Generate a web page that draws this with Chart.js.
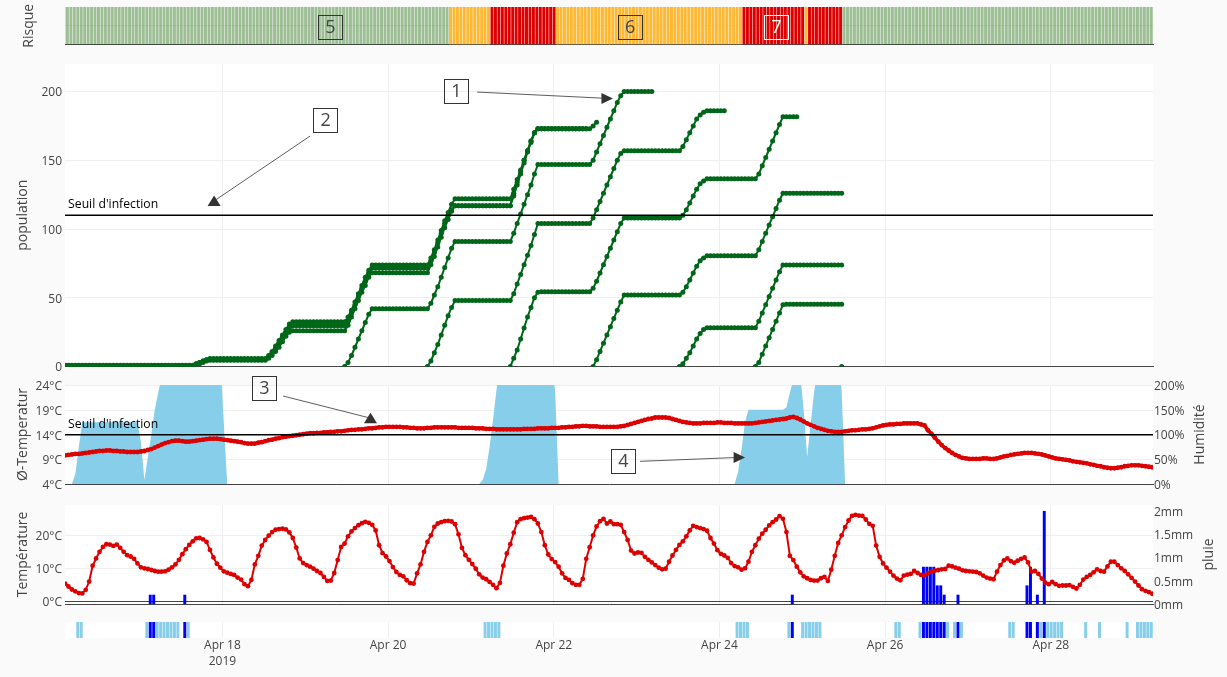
<!DOCTYPE html>
<html>
<head>
<meta charset="utf-8">
<title>Risque d'infection</title>
<script src="https://cdn.jsdelivr.net/npm/chart.js@4/dist/chart.umd.min.js"></script>
<style>
html,body{margin:0;padding:0;background:#fafafa;overflow:hidden}
canvas{position:absolute;left:0;top:0}
</style>
</head>
<body>
<canvas id="riskChart" width="1227" height="677"></canvas>
<canvas id="popChart" width="1227" height="677"></canvas>
<canvas id="avgChart" width="1227" height="677"></canvas>
<canvas id="tempChart" width="1227" height="677"></canvas>
<canvas id="wetChart" width="1227" height="677"></canvas>
<script>
// hours counted from the first reading (Apr 16, about 02:20)
var xTickHours=[45.6,93.6,141.6,189.6,237.6,285.6];
var xTickLabels=[['Apr 18','2019'],'Apr 20','Apr 22','Apr 24','Apr 26','Apr 28'];
var xMax=315.2;

var riskStartHours=[-1,111,123,142,196,214,215,225];
var riskLevels=['low','mid','high','mid','high','mid','high','low'];
var riskTicks=[0.5];

var populationTicks=[0,50,100,150,200];
var infectionThreshold=110;
var avgTempTicks=[4,9,14,19,24];
var humidityTicks=[0,50,100,150,200];
var avgTempThreshold=14;
var tempTicks=[0,10,20];
var rainTicks=[0,0.5,1,1.5,2];

var growthStarts=[0,0,0,81,105,129,153,178,200,225];
var growth1=[
1,1,1,1,1,1,1,1,1,1,
1,1,1,1,1,1,1,1,1,1,
1,1,1,1,1,1,1,1,1,1,
1,1,1,1,1,1,1,1,
2,3,4,5,5.8,
5.8,5.8,5.8,5.8,5.8,5.8,5.8,5.8,5.8,5.8,5.8,5.8,5.8,5.8,5.8,5.8,
8,11,15,19,23,27,31,32.6,
32.6,32.6,32.6,32.6,32.6,32.6,32.6,32.6,32.6,32.6,32.6,32.6,32.6,32.6,32.6,
36,41,47,53,59,65,70,73.8,
73.8,73.8,73.8,73.8,73.8,73.8,73.8,73.8,73.8,73.8,73.8,73.8,73.8,73.8,73.8,73.8,
79,85,92,99,106,112,118,122,
122,122,122,122,122,122,122,122,122,122,122,122,122,122,122,122,
129,136,143,150,157,164,170,173,
173,173,173,173,173,173,173,173,173,173,173,173,173,173,
173,175,177.7];
var growth2=[
0.8,0.8,0.8,0.8,0.8,0.8,0.8,0.8,0.8,0.8,
0.8,0.8,0.8,0.8,0.8,0.8,0.8,0.8,0.8,0.8,
0.8,0.8,0.8,0.8,0.8,0.8,0.8,0.8,0.8,0.8,
0.8,0.8,0.8,0.8,0.8,0.8,0.8,0.8,
2,3,4,5,5,
5,5,5,5,5,5,5,5,5,5,5,5,5,5,5,5,
7,10,13,17,21,25,28,29.7,
29.7,29.7,29.7,29.7,29.7,29.7,29.7,29.7,29.7,29.7,29.7,29.7,29.7,29.7,29.7,
33,39,45,51,57,62,68,71.6,
71.6,71.6,71.6,71.6,71.6,71.6,71.6,71.6,71.6,71.6,71.6,71.6,71.6,71.6,71.6,71.6,
77,83,90,97,104,110,114,117,
117,117,117,117,117,117,117,117,117,117,117,117,117,117,117,117,
126,134,142,150,157,164,170,173,
173,173,173,173,173,173,173,173,173,173,173,173,173,173];
var growth3=[
0.5,0.5,0.5,0.5,0.5,0.5,0.5,0.5,0.5,0.5,
0.5,0.5,0.5,0.5,0.5,0.5,0.5,0.5,0.5,0.5,
0.5,0.5,0.5,0.5,0.5,0.5,0.5,0.5,0.5,0.5,
0.5,0.5,0.5,0.5,0.5,0.5,0.5,0.5,
1,2,3,4,4.5,
4.5,4.5,4.5,4.5,4.5,4.5,4.5,4.5,4.5,4.5,4.5,4.5,4.5,4.5,4.5,4.5,
6,8,11,14,18,22,25,26,
26,26,26,26,26,26,26,26,26,26,26,26,26,26,26,
30,36,42,48,54,59,65,68.2,
68.2,68.2,68.2,68.2,68.2,68.2,68.2,68.2,68.2,68.2,68.2,68.2,68.2,68.2,68.2,68.2,
74,80,87,94,101,107,113,117,
117,117,117,117,117,117,117,117,117,117,117,117,117,117,117,117,
124,132,140,148,156,163,170,173,
173,173,173,173,173,173,173,173,173,173,173,173,173,173];
var growth4=[
0,3,8,14,20,26,32,38,42,
42,42,42,42,42,42,42,42,42,42,42,42,42,42,42,42,
46,52,58,65,72,79,86,91,
91,91,91,91,91,91,91,91,91,91,91,91,91,91,91,91,
97,104,111,118,125,132,140,147,
147,147,147,147,147,147,147,147,147,147,147,147,147,147,147,
150,156,162,168,174,180,186,192,197,200,
200,200,200,200,200,200,200,200];
var growth5=[
0,4,10,16,23,30,37,43,48,
48,48,48,48,48,48,48,48,48,48,48,48,48,48,48,48,
53,60,67,74,81,88,96,104,
104,104,104,104,104,104,104,104,104,104,104,104,104,104,104,
108,114,120,126,132,138,144,150,155,157,
157,157,157,157,157,157,157,157,157,157,157,157,157,157,157,157,
160,165,170,175,180,183,185,186,
186,186,186,186,186];
var growth6=[
0,6,12,20,28,36,43,50,54,
54.4,54.4,54.4,54.4,54.4,54.4,54.4,54.4,54.4,54.4,54.4,54.4,54.4,54.4,54.4,
57,62,68,74,80,86,92,98,104,108,
108,108,108,108,108,108,108,108,108,108,108,108,108,108,108,108,
110,114,119,124,129,133,135,136.5,
136.5,136.5,136.5,136.5,136.5,136.5,136.5,136.5,136.5,136.5,136.5,136.5,136.5,136.5,
140,146,152,158,164,170,176,181.7,
181.7,181.7,181.7,181.7];
var growth7=[
0,5,11,17,23,29,35,41,47,52,
52,52,52,52,52,52,52,52,52,52,52,52,52,52,52,52,
54,58,63,68,73,77,79,80.6,
80.6,80.6,80.6,80.6,80.6,80.6,80.6,80.6,80.6,80.6,80.6,80.6,80.6,80.6,
85,91,97,103,109,115,121,126,
126,126,126,126,126,126,126,126,126,126,126,126,126,126,126,126,126];
var growth8=[
0,2,6,10,15,20,24,27,28.2,
28.2,28.2,28.2,28.2,28.2,28.2,28.2,28.2,28.2,28.2,28.2,28.2,28.2,28.2,
33,39,45,51,57,63,69,73.8,
73.8,73.8,73.8,73.8,73.8,73.8,73.8,73.8,73.8,73.8,73.8,73.8,73.8,73.8,73.8,73.8,73.8];
var growth9=[
0,3,9,15,21,27,33,39,45,
45.2,45.2,45.2,45.2,45.2,45.2,45.2,45.2,45.2,45.2,45.2,45.2,45.2,45.2,45.2,45.2,45.2];
var growth10=[0];
var growthSeries=[growth1,growth2,growth3,growth4,growth5,growth6,growth7,growth8,growth9,growth10];

var avgTemp=[
9.8,9.9,10,10.1,10.1,10.2,10.3,10.4,10.5,10.6,
10.7,10.7,10.8,10.8,10.7,10.7,10.6,10.6,10.5,10.5,
10.5,10.5,10.6,10.7,10.9,11.1,11.4,11.7,12,12.3,
12.5,12.7,12.8,12.8,12.7,12.6,12.6,12.7,12.8,12.9,
13,13.1,13.2,13.2,13.2,13.1,13,12.9,12.8,12.7,
12.6,12.5,12.3,12.2,12.2,12.2,12.4,12.5,12.7,12.9,
13,13.2,13.3,13.5,13.6,13.7,13.8,13.9,14,14.1,
14.2,14.3,14.3,14.4,14.4,14.5,14.5,14.6,14.6,14.7,
14.7,14.8,14.9,15,15,15.1,15.1,15.2,15.3,15.3,
15.4,15.5,15.5,15.6,15.6,15.6,15.6,15.6,15.5,15.5,
15.4,15.4,15.3,15.3,15.3,15.4,15.4,15.5,15.5,15.5,
15.5,15.5,15.5,15.5,15.4,15.4,15.4,15.4,15.4,15.3,
15.3,15.3,15.2,15.2,15.2,15.1,15.1,15.1,15.1,15.1,
15.1,15.1,15.1,15.2,15.2,15.2,15.2,15.3,15.3,15.3,
15.3,15.4,15.4,15.4,15.5,15.5,15.6,15.6,15.7,15.7,
15.8,15.8,15.7,15.7,15.7,15.6,15.6,15.6,15.6,15.6,
15.6,15.7,15.8,16,16.2,16.4,16.6,16.8,17,17.2,
17.3,17.5,17.5,17.5,17.5,17.4,17.2,17,16.8,16.6,
16.5,16.4,16.3,16.3,16.3,16.4,16.4,16.4,16.4,16.5,
16.5,16.4,16.4,16.4,16.3,16.3,16.3,16.3,16.3,16.3,
16.4,16.5,16.6,16.7,16.8,16.9,17,17.1,17.2,17.3,
17.5,17.6,17.4,17.1,16.7,16.3,16,15.7,15.4,15.2,
15,14.8,14.7,14.6,14.6,14.6,14.7,14.8,14.9,14.9,
15,15.1,15.1,15.2,15.3,15.5,15.7,15.9,16,16.1,
16.1,16.2,16.2,16.3,16.3,16.3,16.3,16.3,16.1,15.9,
14.9,14.2,13.4,12.6,11.9,11.3,10.8,10.3,9.9,9.6,
9.3,9.2,9.1,9.1,9.1,9.1,9.2,9.2,9.1,9.1,
9.2,9.4,9.6,9.7,9.9,10,10.1,10.2,10.3,10.3,
10.3,10.2,10.1,10,9.8,9.6,9.4,9.2,9.1,9,
8.9,8.8,8.6,8.5,8.4,8.3,8.2,8,7.9,7.7,
7.6,7.4,7.3,7.2,7.2,7.3,7.4,7.6,7.7,7.8,
7.8,7.8,7.7,7.6,7.5,7.4];

var humidity=[
0,0,0,20,75,125,125,125,125,125,
125,125,125,125,125,125,125,125,125,125,
125,125,85,8,55,100,150,185,215,240,
250,250,250,250,250,250,250,250,250,250,
250,250,250,250,250,250,125,0,0,0,
0,0,0,0,0,0,0,0,0,0,
0,0,0,0,0,0,0,0,0,0,
0,0,0,0,0,0,0,0,0,0,
0,0,0,0,0,0,0,0,0,0,
0,0,0,0,0,0,0,0,0,0,
0,0,0,0,0,0,0,0,0,0,
0,0,0,0,0,0,0,0,0,0,
0,8,30,75,130,190,240,250,250,250,
250,250,250,250,250,250,250,250,250,250,
250,225,190,0,0,0,0,0,0,0,
0,0,0,0,0,0,0,0,0,0,
0,0,0,0,0,0,0,0,0,0,
0,0,0,0,0,0,0,0,0,0,
0,0,0,0,0,0,0,0,0,0,
0,0,0,0,0,25,70,125,150,150,
150,150,150,150,150,150,150,150,150,155,
185,210,230,220,150,55,120,185,230,250,
250,250,250,250,250,190,0,0,0,0,
0,0,0,0,0,0,0,0,0,0,
0,0,0,0,0,0,0,0,0,0,
0,0,0,0,0,0,0,0,0,0,
0,0,0,0,0,0,0,0,0,0,
0,0,0,0,0,0,0,0,0,0,
0,0,0,0,0,0,0,0,0,0,
0,0,0,0,0,0,0,0,0,0,
0,0,0,0,0,0,0,0,0,0,
0,0,0,0,0,0];

var temperature=[
5.4,4.5,3.6,3,2.5,2.4,3.5,6,10.8,13,
15,16.5,17.3,17.2,16.8,17.2,16.2,15,14,13.6,
12.9,11.5,10.3,10,9.8,9.5,9.2,9,9,9.1,
9.6,10.3,11.2,12.6,14.3,15.8,17.1,18.2,19.1,19.2,
18.8,18,15.6,13.3,11.4,10.2,9.1,8.7,8.3,8,
7.2,6.6,5.2,4.6,6.5,11.2,13.8,16.9,18.6,19.9,
21,21.7,21.9,22,21.8,20.9,19.2,16.3,13,11.6,
11,10.5,9.9,9.2,8.6,7.4,6.2,6.3,8.6,12.5,
16.5,17.5,19.7,21.2,22.2,23.1,23.7,24.1,23.8,23.2,
21.5,17,14.6,13.6,12.2,10.4,8.9,8,7.6,6.4,
5.5,5.4,8.5,11.2,15,18,20,22.6,23.6,24,
24.3,24.4,24.2,23.4,20.3,16.2,14,12.6,11.3,9.9,
8.2,7.2,6.7,5.9,5,4,5.6,10.8,14.5,17.3,
20.8,24,24.9,25.2,25.4,25.6,24.9,23.6,21,17,
14.2,12.8,11.9,10.5,8.5,7.1,6.5,5.5,5,5,
6.8,12.9,16.4,20,22.7,24.3,25,23.6,24.2,23.4,
23.4,23.2,21,18.6,15.4,14.5,14.8,14.7,13.5,12.6,
11.8,11,10.2,9.7,9.9,12,13.9,15.6,17.1,18.2,
19.7,21.5,22.9,22.5,22.2,21.9,21.4,19.2,17.5,15.5,
14.4,13.9,13.2,11.6,10.7,10.3,9.6,10,12,15,
17,19,20.5,21.7,23,24,24.8,25.8,25,21,
13.8,12.5,10.5,8.8,7.6,7,6.5,6.3,6.3,7,
7.4,6.2,9.6,13.8,17.7,20,22.5,24.5,25.9,26.2,
26,25.9,24.8,23.5,22.9,16.9,13.5,11.5,10.2,9,
7.8,6.9,6.4,7.8,8.1,8.3,9.2,8.6,8,7.9,
8.5,9,9.3,9.5,9.7,9.8,10.8,10.6,10.2,9.9,
9.4,9.2,9.1,9,8.9,8.5,7.8,7.2,6.9,6.7,
9,11,12.4,13,12.2,11.7,12.3,12.9,13.3,11.8,
9,9.2,8.3,6.9,5.7,5.2,5.9,5.2,4.7,4.8,
4.8,4.9,4.4,3.9,5,6.6,7.4,8,8.8,9.7,
9.2,9,10.6,12,12,11,10,9.2,8.2,7.1,
6,4.8,3.7,3.2,2.8,2.3];

var rainHours=[24,25,34,210,248,249,250,251,252,253,254,258,278,279,281,283];
var rainAmounts=[0.2,0.2,0.2,0.2,0.8,0.8,0.8,0.8,0.4,0.4,0.2,0.2,0.4,0.8,0.2,2];
var wetHours=[3,4,23,26,27,28,29,30,31,32,35,121,122,123,124,125,194,195,196,197,209,213,214,215,216,217,218,240,241,247,255,257,259,273,274,282,284,285,286,287,288,295,299,307,310,311,312,313,314];

// bars sit a bit after the hour mark, same as in the original plot
var barShift=0.7;
var fontName='"Open Sans", sans-serif';
var textColor='#444';
var riskColors={low:'rgba(62,128,44,0.5)',mid:'#ffb833',high:'#dd0000'};

Chart.register({
    id:'plotBg',
    beforeDraw:function(chart){
        var a=chart.chartArea;
        chart.ctx.fillStyle='#fff';
        chart.ctx.fillRect(a.left,a.top,a.right-a.left,a.bottom-a.top);
    }
});

function points(values,start)
{
    return values.map(function(v,i){return {x:start+i,y:v};});
}

function thresholdLine(value,axisId)
{
    return {type:'line',data:[{x:0,y:value},{x:xMax,y:value}],borderColor:'#000',borderWidth:1.7,pointRadius:0,yAxisID:axisId};
}

function xAxis(opts)
{
    return {
        type:'linear',min:0,max:xMax,offset:false,
        afterBuildTicks:function(s){s.ticks=xTickHours.map(function(v){return {value:v};});},
        afterFit:function(s){s.height=opts.height||0;},
        border:{display:opts.line,color:textColor,width:1},
        grid:{display:opts.grid!==false,color:'#eee',drawTicks:false,offset:false},
        ticks:{display:!!opts.labels,autoSkip:false,maxRotation:0,padding:0,color:textColor,
            font:{family:fontName,size:12,lineHeight:1.33},
            callback:function(v,i){return xTickLabels[i];}}
    };
}

function leftAxis(ticks,suffix,title,titleOffset,min,max,zeroDark)
{
    return {
        type:'linear',position:'left',min:min,max:max,
        afterBuildTicks:function(s){s.ticks=ticks.map(function(v){return {value:v};});},
        afterFit:function(s){s.width=65;},
        border:{display:false},
        grid:{drawTicks:false,color:function(c){return (zeroDark&&c.tick.value===0)?textColor:'#eee';}},
        ticks:{display:suffix!==null,padding:3,labelOffset:1.5,color:textColor,font:{family:fontName,size:12},
            callback:function(v){return v+suffix;}},
        title:{display:true,text:title,color:textColor,font:{family:fontName,size:14},padding:{top:titleOffset,bottom:0}}
    };
}

function rightAxis(ticks,suffix,min,max)
{
    return {
        type:'linear',position:'right',min:min,max:max,
        afterBuildTicks:function(s){s.ticks=ticks.map(function(v){return {value:v};});},
        afterFit:function(s){s.width=74;},
        border:{display:false},
        grid:{display:false,drawTicks:false},
        ticks:{padding:1,labelOffset:1.5,color:textColor,font:{family:fontName,size:12},
            callback:function(v){return v+suffix;}}
    };
}

// numbered boxes, arrows, threshold captions and right hand titles
function notesPlugin(notes)
{
    return {
        id:'notes',
        afterDraw:function(chart){
            var c=chart.ctx;
            var sx=chart.scales.x;
            notes.forEach(function(n){
                var sy=chart.scales[n.axis||'y'];
                c.save();
                if(n.box)
                {
                    var px=sx.getPixelForValue(n.x),py=sy.getPixelForValue(n.y);
                    var col=n.color||'#333';
                    c.strokeStyle=col;
                    c.lineWidth=1;
                    c.strokeRect(Math.round(px-12.5)+0.5,Math.round(py-12)+0.5,24,24);
                    c.fillStyle=n.color||textColor;
                    c.font='18px '+fontName;
                    c.textAlign='center';
                    c.textBaseline='middle';
                    c.fillText(n.box,px,py+1);
                }
                else if(n.head)
                {
                    var hx=sx.getPixelForValue(n.head[0]),hy=sy.getPixelForValue(n.head[1]);
                    c.strokeStyle='#333';
                    c.fillStyle='#333';
                    c.lineWidth=0.8;
                    c.beginPath();
                    c.moveTo(sx.getPixelForValue(n.tail[0]),sy.getPixelForValue(n.tail[1]));
                    c.lineTo(hx,hy);
                    c.stroke();
                    c.beginPath();
                    if(n.dir=='right')
                    {
                        c.moveTo(hx-5.5,hy-5.5);c.lineTo(hx+6,hy);c.lineTo(hx-5.5,hy+5.5);
                    }
                    else
                    {
                        c.moveTo(hx,hy-5.5);c.lineTo(hx+6.5,hy+5);c.lineTo(hx-6.5,hy+5);
                    }
                    c.closePath();
                    c.fill();
                }
                else if(n.caption)
                {
                    c.fillStyle='#000';
                    c.font='12.2px '+fontName;
                    c.textAlign='left';
                    c.textBaseline='middle';
                    c.fillText(n.caption,sx.getPixelForValue(n.x),sy.getPixelForValue(n.y));
                }
                else if(n.title)
                {
                    c.fillStyle=textColor;
                    c.font='14px '+fontName;
                    c.textAlign='center';
                    c.textBaseline='middle';
                    c.translate(n.left,(sy.top+sy.bottom)/2);
                    c.rotate(-Math.PI/2);
                    c.fillText(n.title,0,0);
                }
                c.restore();
            });
        }
    };
}

function baseOptions(top,bottom,right,scales)
{
    return {
        responsive:false,
        animation:false,
        events:[],
        layout:{padding:{left:0,right:right,top:top,bottom:677-bottom}},
        plugins:{legend:{display:false},tooltip:{enabled:false}},
        scales:scales
    };
}

// risk strip
var riskBars=[];
var riskBarColors=[];
for(var h=-1;h<=315;h++)
{
    var band=0;
    for(var b=0;b<riskStartHours.length;b++)
    {
        if(h>=riskStartHours[b]) band=b;
    }
    riskBars.push({x:h+barShift,y:1});
    riskBarColors.push(riskColors[riskLevels[band]]);
}
new Chart('riskChart',{
    type:'bar',
    data:{datasets:[{data:riskBars,backgroundColor:riskBarColors,barPercentage:0.86,categoryPercentage:1}]},
    options:baseOptions(7,44.5,74,{
        x:xAxis({line:true,grid:false}),
        y:leftAxis(riskTicks,null,'Risque',20.5,0,1,false)
    }),
    plugins:[notesPlugin([
        {box:'5',x:76.9,y:0.47},
        {box:'6',x:163.7,y:0.47},
        {box:'7',x:206.1,y:0.47,color:'#fff'}
    ])]
});

// population
var popDatasets=[thresholdLine(infectionThreshold,'y')];
growthSeries.forEach(function(values,i){
    popDatasets.push({type:'line',data:points(values,growthStarts[i]),borderColor:'#006618',backgroundColor:'#006618',borderWidth:2,pointRadius:2.5,pointBorderWidth:0,tension:0});
});
new Chart('popChart',{
    type:'line',
    data:{datasets:popDatasets},
    options:baseOptions(64,366.5,74,{
        x:xAxis({line:true}),
        y:leftAxis(populationTicks,'','population',14.5,0,220,false)
    }),
    plugins:[notesPlugin([
        {caption:"Seuil d'infection",x:0.9,y:117.7},
        {box:'1',x:113.4,y:200.7},
        {tail:[119.4,199.6],head:[157,195],dir:'right'},
        {box:'2',x:75.5,y:179.3},
        {tail:[71,167.6],head:[43.2,120.4],dir:'up'}
    ])]
});

// mean temperature and humidity
new Chart('avgChart',{
    type:'line',
    data:{datasets:[
        thresholdLine(avgTempThreshold,'y'),
        {data:points(avgTemp,0),yAxisID:'y',borderColor:'#dd0000',backgroundColor:'#dd0000',borderWidth:3.6,pointRadius:2.4,pointBorderWidth:0,tension:0},
        {data:points(humidity,0),yAxisID:'y2',borderWidth:0,pointRadius:0,backgroundColor:'#87ceeb',fill:'origin',tension:0}
    ]},
    options:baseOptions(385,484,0,{
        x:xAxis({line:true}),
        y:leftAxis(avgTempTicks,'°C','Ø-Temperatur',14.5,4,24.1,false),
        y2:rightAxis(humidityTicks,'%',0,200)
    }),
    plugins:[notesPlugin([
        {caption:"Seuil d'infection",x:0.9,y:16.04},
        {box:'3',x:57.8,y:23.5},
        {tail:[63.2,21.86],head:[88.5,17.37],dir:'up'},
        {box:'4',x:161.8,y:8.69},
        {tail:[166.6,8.6],head:[195.3,9.4],dir:'right'},
        {title:'Humidité',left:1200,axis:'y2'}
    ])]
});

// hourly temperature and rain
var rainBars=rainHours.map(function(h,i){return {x:h+barShift,y:rainAmounts[i]};});
new Chart('tempChart',{
    type:'line',
    data:{datasets:[
        {data:points(temperature,0),yAxisID:'y',borderColor:'#dd0000',backgroundColor:'#dd0000',borderWidth:2,pointRadius:2.4,pointBorderWidth:0,tension:0},
        {type:'bar',data:rainBars,yAxisID:'y2',backgroundColor:'#0000ff',barPercentage:0.86,categoryPercentage:1}
    ]},
    options:baseOptions(505,604,0,{
        x:xAxis({line:true}),
        y:leftAxis(tempTicks,'°C','Température',14.5,-0.8,29.2,true),
        y2:rightAxis(rainTicks,'mm',0,2.127)
    }),
    plugins:[notesPlugin([
        {title:'pluie',left:1209,axis:'y2'}
    ])]
});

// wet hours strip, with the date axis under it
var wetBars=wetHours.map(function(h){return {x:h+barShift,y:1};});
var rainStrip=rainHours.map(function(h){return {x:h+barShift,y:1};});
new Chart('wetChart',{
    type:'bar',
    data:{datasets:[
        {data:rainStrip,backgroundColor:'#0000ff',barPercentage:0.86,categoryPercentage:1,grouped:false},
        {data:wetBars,backgroundColor:'#87ceeb',barPercentage:0.86,categoryPercentage:1,grouped:false}
    ]},
    options:{
        responsive:false,
        animation:false,
        events:[],
        layout:{padding:{left:65,right:74,top:622,bottom:0}},
        plugins:{legend:{display:false},tooltip:{enabled:false}},
        scales:{
            x:xAxis({line:false,labels:true,height:39}),
            y:{display:false,min:0,max:1}
        }
    }
});
</script>
</body>
</html>
